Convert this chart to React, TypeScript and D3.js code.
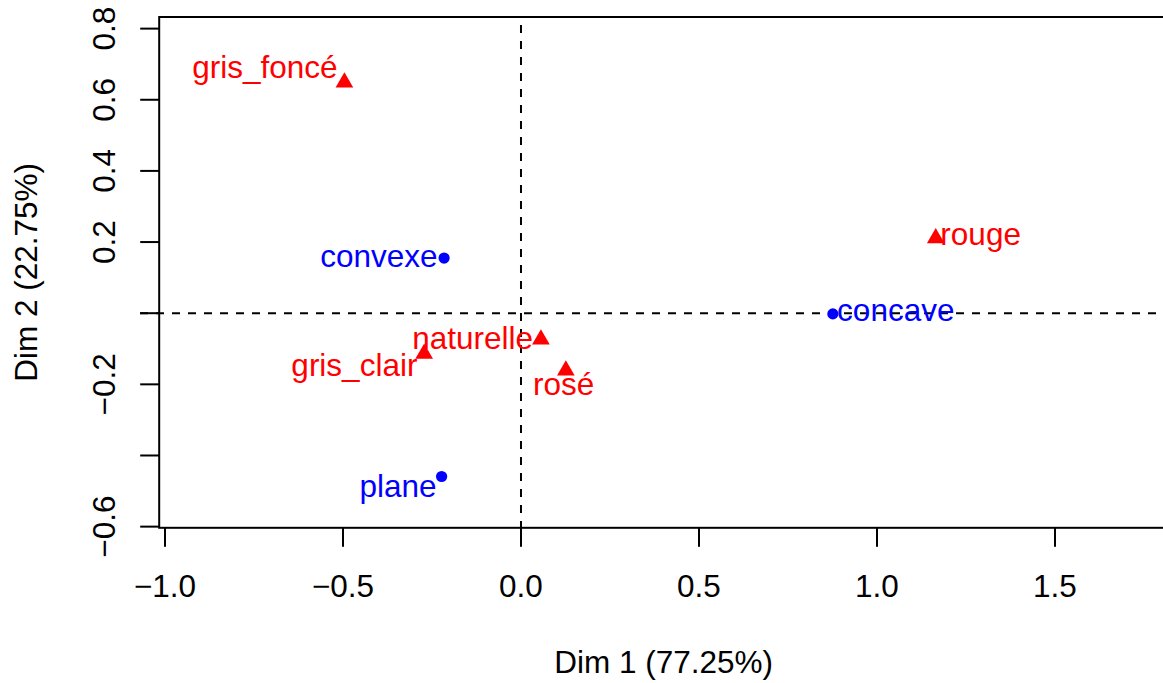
import React from "react";
import * as d3 from "d3";

// Row points (colours of the ink) - red triangles
const rowNames = ["gris_foncé", "naturelle", "gris_clair", "rosé", "rouge"];
const rowDim1 = [-0.496, 0.056, -0.272, 0.126, 1.165];
const rowDim2 = [0.649, -0.074, -0.114, -0.161, 0.211];
// label positions (data units, as placed by autoLab)
const rowLabX = [-0.515, 0.034, -0.291, 0.034, 1.178];
const rowLabY = [0.661, -0.1015, -0.177, -0.23, 0.193];
const rowLabAnchor = ["end", "end", "end", "start", "start"];

// Column points - blue dots
const colNames = ["concave", "convexe", "plane"];
const colDim1 = [0.876, -0.216, -0.223];
const colDim2 = [-0.002, 0.155, -0.459];
const colLabX = [0.888, -0.2345, -0.237];
const colLabY = [-0.023, 0.131, -0.518];
const colLabAnchor = ["start", "end", "end"];

const xTicks = [-1.0, -0.5, 0.0, 0.5, 1.0, 1.5];
const yTicks = [-0.6, -0.4, -0.2, 0.0, 0.2, 0.4, 0.6, 0.8];
const yTickLabels = ["−0.6", "", "−0.2", "", "0.2", "0.4", "0.6", "0.8"];
const xTitle = "Dim 1 (77.25%)";
const yTitle = "Dim 2 (22.75%)";

const W = 1163;
const H = 683;
const FONT = "'Liberation Sans', Arial, Helvetica, sans-serif";
const FS = 31.5;

export default function App() {
  const left = 159.2;
  const right = 1168;
  const top = 17;
  const bottom = 527.8;
  const x = d3.scaleLinear().domain([-1.014, 1.809]).range([160, 1165]);
  const y = d3.scaleLinear().domain([-0.603, 0.8335]).range([527.7, 16.7]);
  const fmt = (v: number) => d3.format(".1f")(v).replace("-", "−");
  const triR = 10.2;
  const triPath = (cx: number, cy: number) => {
    const hw = triR * Math.sqrt(3) / 2;
    return `M${cx},${cy - triR}L${cx + hw},${cy + triR / 2}L${cx - hw},${cy + triR / 2}Z`;
  };
  const tick = 19;
  return (
    <svg
      width={W}
      height={H}
      style={{ position: "absolute", left: 0, top: 0, background: "#fff" }}
      fontFamily={FONT}
    >
      <rect x={0} y={0} width={W} height={H} fill="#fff" />
      {/* reference lines */}
      <line x1={x(0)} x2={x(0)} y1={top} y2={bottom} stroke="#000" strokeWidth={2} strokeDasharray="8,8" strokeDashoffset={8} />
      <line x1={140} x2={W} y1={y(0)} y2={y(0)} stroke="#000" strokeWidth={2} strokeDasharray="8,8" />
      {/* box */}
      <rect x={left} y={top} width={right - left} height={bottom - top} fill="none" stroke="#000" strokeWidth={2} />
      {/* x axis */}
      {xTicks.map((t) => (
        <g key={"xt" + t}>
          <line x1={x(t)} x2={x(t)} y1={bottom} y2={bottom + tick} stroke="#000" strokeWidth={2} />
          <text x={x(t)} y={597} textAnchor="middle" fontSize={FS} fill="#000">
            {fmt(t)}
          </text>
        </g>
      ))}
      {/* y axis */}
      {yTicks.map((t, i) => (
        <g key={"yt" + t}>
          <line x1={left - tick} x2={left} y1={y(t)} y2={y(t)} stroke="#000" strokeWidth={2} />
          {yTickLabels[i] && (
            <text
              transform={`translate(114.5,${y(t)}) rotate(-90)`}
              textAnchor="middle"
              fontSize={FS}
              fill="#000"
            >
              {yTickLabels[i]}
            </text>
          )}
        </g>
      ))}
      <text x={(left + right) / 2} y={673.3} textAnchor="middle" fontSize={FS} fill="#000">
        {xTitle}
      </text>
      <text
        transform={`translate(36.7,${(top + bottom) / 2}) rotate(-90)`}
        textAnchor="middle"
        fontSize={FS}
        fill="#000"
      >
        {yTitle}
      </text>
      {/* column points */}
      {colNames.map((n, i) => (
        <g key={"c" + n}>
          <circle cx={x(colDim1[i])} cy={y(colDim2[i])} r={5.6} fill="#0000FF" />
          <text x={x(colLabX[i])} y={y(colLabY[i])} textAnchor={colLabAnchor[i]} fontSize={FS} fill="#0000FF">
            {n}
          </text>
        </g>
      ))}
      {/* row points */}
      {rowNames.map((n, i) => (
        <g key={"r" + n}>
          <path d={triPath(x(rowDim1[i]), y(rowDim2[i]))} fill="#FF0000" />
          <text x={x(rowLabX[i])} y={y(rowLabY[i])} textAnchor={rowLabAnchor[i]} fontSize={FS} fill="#FF0000">
            {n}
          </text>
        </g>
      ))}
    </svg>
  );
}
